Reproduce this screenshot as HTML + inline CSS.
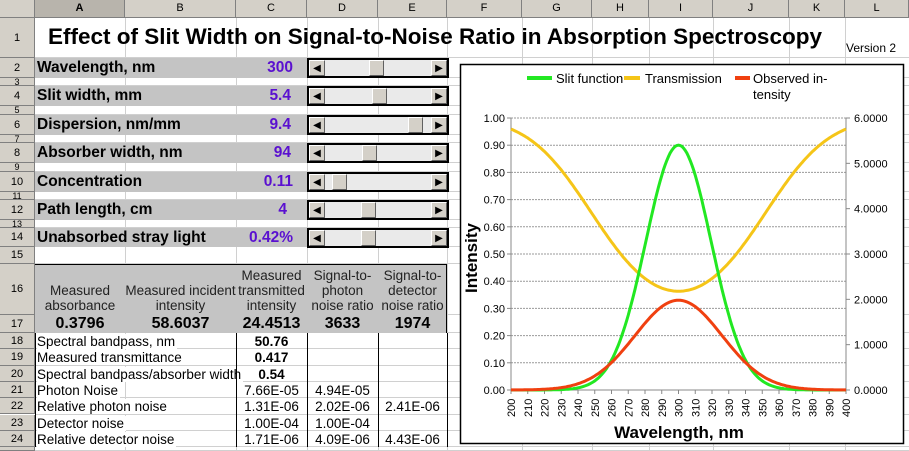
<!DOCTYPE html>
<html><head><meta charset="utf-8">
<style>
body{margin:0;width:909px;height:451px;overflow:hidden;background:#fff;font-family:"Liberation Sans",Arial,sans-serif;position:relative}
.a{position:absolute;box-sizing:border-box}
.hd{background:#d4d0c8;border-right:1px solid #808080;border-bottom:1px solid #808080;font-size:11px;text-align:center;color:#000}
.vl{position:absolute;top:18px;width:1px;height:433px;background:#d0d0d0}
.hl{position:absolute;left:35px;height:1px;width:874px;background:#d0d0d0}
.g{background:#c4c4c4}
.lab{font-weight:bold;font-size:15.5px;white-space:nowrap}
.val{font-weight:bold;font-size:15.5px;color:#5a10d0;text-align:right}
.sb{position:absolute;left:307px;width:142px;border:2px solid #000;background:#eaeaea;box-sizing:border-box}
.btn{position:absolute;top:0;bottom:0;width:16px;background:#d4d0c8;border-right:1px solid #606060;border-bottom:1px solid #606060;border-left:1px solid #fff;border-top:1px solid #fff;box-sizing:border-box;font-size:10px;line-height:15px;text-align:center}
.th{position:absolute;top:0;bottom:0;width:15px;background:#d4d0c8;border-right:1px solid #606060;border-bottom:1px solid #606060;border-left:1px solid #fff;border-top:1px solid #fff;box-sizing:border-box}
.t{font-size:13.5px;white-space:nowrap}
</style></head><body>
<div class="a hd" style="left:0;top:0;width:35px;height:18px"></div>
<div class="a hd" style="left:35px;top:0;width:90px;height:18px;background:#b8b4ac;font-weight:bold;line-height:17px">A</div>
<div class="a hd" style="left:125px;top:0;width:111px;height:18px;line-height:17px">B</div>
<div class="a hd" style="left:236px;top:0;width:71px;height:18px;line-height:17px">C</div>
<div class="a hd" style="left:307px;top:0;width:71px;height:18px;line-height:17px">D</div>
<div class="a hd" style="left:378px;top:0;width:69px;height:18px;line-height:17px">E</div>
<div class="a hd" style="left:447px;top:0;width:75px;height:18px;line-height:17px">F</div>
<div class="a hd" style="left:522px;top:0;width:70px;height:18px;line-height:17px">G</div>
<div class="a hd" style="left:592px;top:0;width:57px;height:18px;line-height:17px">H</div>
<div class="a hd" style="left:649px;top:0;width:64px;height:18px;line-height:17px">I</div>
<div class="a hd" style="left:713px;top:0;width:76px;height:18px;line-height:17px">J</div>
<div class="a hd" style="left:789px;top:0;width:56px;height:18px;line-height:17px">K</div>
<div class="a hd" style="left:845px;top:0;width:64px;height:18px;line-height:17px">L</div>
<div class="vl" style="left:125px"></div><div class="vl" style="left:236px"></div><div class="vl" style="left:307px"></div><div class="vl" style="left:378px"></div><div class="vl" style="left:447px"></div><div class="vl" style="left:522px"></div><div class="vl" style="left:592px"></div><div class="vl" style="left:649px"></div><div class="vl" style="left:713px"></div><div class="vl" style="left:789px"></div><div class="vl" style="left:845px"></div>
<div id="rows"></div>
<div class="a g" style="left:35px;top:58px;width:272px;height:20px"></div>
<div class="a g" style="left:35px;top:86px;width:272px;height:20px"></div>
<div class="a g" style="left:35px;top:115px;width:272px;height:20px"></div>
<div class="a g" style="left:35px;top:143px;width:272px;height:20px"></div>
<div class="a g" style="left:35px;top:172px;width:272px;height:20px"></div>
<div class="a g" style="left:35px;top:200px;width:272px;height:20px"></div>
<div class="a g" style="left:35px;top:228px;width:272px;height:19px"></div>
<div class="a g" style="left:35px;top:264px;width:412px;height:69px;border-top:1px solid #000;border-right:1px solid #000"></div>
<div class="a" style="left:48px;top:24px;font-size:22.5px;font-weight:bold;white-space:nowrap">Effect of Slit Width on Signal-to-Noise Ratio in Absorption Spectroscopy</div>
<div class="a" style="left:846px;top:41px;font-size:12px">Version 2</div>
<div class="a lab" style="left:37px;top:59px">Wavelength, nm</div><div class="a val" style="left:236px;top:59px;width:57px">300</div>
<div class="a lab" style="left:37px;top:87px">Slit width, mm</div><div class="a val" style="left:236px;top:87px;width:55px">5.4</div>
<div class="a lab" style="left:37px;top:116px">Dispersion, nm/mm</div><div class="a val" style="left:236px;top:116px;width:55px">9.4</div>
<div class="a lab" style="left:37px;top:144px">Absorber width, nm</div><div class="a val" style="left:236px;top:144px;width:55px">94</div>
<div class="a lab" style="left:37px;top:173px">Concentration</div><div class="a val" style="left:236px;top:173px;width:57px">0.11</div>
<div class="a lab" style="left:37px;top:201px">Path length, cm</div><div class="a val" style="left:236px;top:201px;width:51px">4</div>
<div class="a lab" style="left:37px;top:229px">Unabsorbed stray light</div><div class="a val" style="left:236px;top:229px;width:57px">0.42%</div>
<div id="sbs"></div>
<div class="a t" style="left:35px;top:268px;width:90px;text-align:center;line-height:15px;color:#222"><br>Measured<br>absorbance</div>
<div class="a t" style="left:125px;top:268px;width:111px;text-align:center;line-height:15px;color:#222"><br>Measured incident<br>intensity</div>
<div class="a t" style="left:236px;top:268px;width:71px;text-align:center;line-height:15px;color:#222">Measured<br>transmitted<br>intensity</div>
<div class="a t" style="left:307px;top:268px;width:71px;text-align:center;line-height:15px;color:#222">Signal-to-<br>photon<br>noise ratio</div>
<div class="a t" style="left:378px;top:268px;width:69px;text-align:center;line-height:15px;color:#222">Signal-to-<br>detector<br>noise ratio</div>
<div class="a" style="left:35px;top:315px;width:90px;text-align:center;font-weight:bold;font-size:16px">0.3796</div>
<div class="a" style="left:125px;top:315px;width:111px;text-align:center;font-weight:bold;font-size:16px">58.6037</div>
<div class="a" style="left:236px;top:315px;width:71px;text-align:center;font-weight:bold;font-size:16px">24.4513</div>
<div class="a" style="left:307px;top:315px;width:71px;text-align:center;font-weight:bold;font-size:16px">3633</div>
<div class="a" style="left:378px;top:315px;width:69px;text-align:center;font-weight:bold;font-size:16px">1974</div>
<div id="tbl"></div>
<svg class="a" style="left:0;top:0" width="909" height="451" id="ch">
<rect x="460.5" y="64.5" width="443" height="379" fill="#fff" stroke="#000" stroke-width="1.5"/>
</svg>
<script>
var rh=[[1,18,58],[2,58,78],[3,78,86],[4,86,106],[5,106,115],[6,115,135],[7,135,143],[8,143,163],[9,163,172],[10,172,192],[11,192,200],[12,200,220],[13,220,228],[14,228,247],[15,247,264],[16,264,315],[17,315,333]];
var y=333;for(var i=18;i<=24;i++){rh.push([i,y,y+16.3]);y+=16.3}rh.push(['',y,451]);
var h='';rh.forEach(function(r){var ht=r[2]-r[1];h+='<div class="a hd" style="left:0;top:'+r[1]+'px;width:35px;height:'+ht+'px;line-height:'+ht+'px;font-size:'+(ht<12?9:11)+'px">'+r[0]+'</div><div class="hl" style="top:'+(r[2]-1)+'px"></div>';});
document.getElementById('rows').innerHTML=h;
var sb=[[58,369],[86,372],[115,408],[143,362],[172,332],[200,361],[228,361]];h='';
sb.forEach(function(s){h+='<div class="sb" style="top:'+s[0]+'px;height:20px"><div class="btn" style="left:0">&#9664;</div><div class="th" style="left:'+(s[1]-309)+'px"></div><div class="btn" style="right:0">&#9654;</div></div>';});
document.getElementById('sbs').innerHTML=h;
var trows=[['Spectral bandpass, nm','<b>50.76</b>','',''],['Measured transmittance','<b>0.417</b>','',''],['Spectral bandpass/absorber width','<b>0.54</b>','',''],['Photon Noise','7.66E-05','4.94E-05',''],['Relative photon noise','1.31E-06','2.02E-06','2.41E-06'],['Detector noise','1.00E-04','1.00E-04',''],['Relative detector  noise','1.71E-06','4.09E-06','4.43E-06']];
h='';trows.forEach(function(r,i){var t=333+i*16.3;
h+='<div class="a t" style="left:37px;top:'+(t+1)+'px;background:#fff;padding-right:2px">'+r[0]+'</div>';
h+='<div class="a t" style="left:236px;top:'+(t+1)+'px;width:71px;text-align:center">'+r[1]+'</div>';
h+='<div class="a t" style="left:307px;top:'+(t+1)+'px;width:71px;text-align:center">'+r[2]+'</div>';
h+='<div class="a t" style="left:378px;top:'+(t+1)+'px;width:69px;text-align:center">'+r[3]+'</div>';});
h+='<div class="a" style="left:35px;top:333px;width:1px;height:114px;background:#000"></div><div class="a" style="left:236px;top:333px;width:1px;height:114px;background:#000"></div><div class="a" style="left:307px;top:333px;width:1px;height:114px;background:#000"></div><div class="a" style="left:378px;top:333px;width:1px;height:114px;background:#000"></div><div class="a" style="left:447px;top:333px;width:1px;height:114px;background:#000"></div>';
document.getElementById('tbl').innerHTML=h;
var s='';var X0=511,X1=846,Y0=390,Y1=118;
function px(l){return X0+(l-200)*(X1-X0)/200}function py(v){return Y0-v*(Y0-Y1)}
for(var k=1;k<=10;k++){var yy=py(k/10);s+='<line x1="'+X0+'" x2="'+X1+'" y1="'+yy+'" y2="'+yy+'" stroke="#999" stroke-dasharray="2,1"/>';}
s+='<line x1="'+X0+'" x2="'+X0+'" y1="'+Y1+'" y2="'+Y0+'" stroke="#888"/><line x1="'+X1+'" x2="'+X1+'" y1="'+Y1+'" y2="'+Y0+'" stroke="#888"/><line x1="'+X0+'" x2="'+X1+'" y1="'+Y0+'" y2="'+Y0+'" stroke="#888"/>';
for(k=0;k<=10;k++){var yy=py(k/10);s+='<text x="'+(X0-6)+'" y="'+(yy+4)+'" font-size="11" text-anchor="end" font-family="Liberation Sans,sans-serif">'+(k/10).toFixed(2)+'</text><line x1="'+(X0-4)+'" x2="'+X0+'" y1="'+yy+'" y2="'+yy+'" stroke="#888"/>';}
for(k=0;k<=6;k++){var yy=Y0-k*(Y0-Y1)/6;s+='<text x="'+(X1+8)+'" y="'+(yy+4)+'" font-size="11" font-family="Liberation Sans,sans-serif">'+k.toFixed(4)+'</text><line x1="'+X1+'" x2="'+(X1+4)+'" y1="'+yy+'" y2="'+yy+'" stroke="#888"/>';}
for(k=200;k<=400;k+=10){var xx=px(k);s+='<line x1="'+xx+'" x2="'+xx+'" y1="'+Y0+'" y2="'+(Y0+4)+'" stroke="#888"/><text transform="translate('+(xx+4)+','+(Y0+27)+') rotate(-90)" font-size="11" font-family="Liberation Sans,sans-serif">'+k+'</text>';}
function slit(l){var d=l-300;return 0.9*Math.exp(-d*d/(2*19.5*19.5));}
function trans(l){var d=l-300;var A=0.44*Math.exp(-d*d/(56*56));return Math.pow(10,-A);}
function obs(l){var d=l-300;return 0.33*Math.exp(-d*d/(2*26*26));}
function path(f,c){var p='';for(var l=200;l<=400;l+=1){p+=(l==200?'M':'L')+px(l).toFixed(1)+','+py(f(l)).toFixed(1);}return '<path d="'+p+'" fill="none" stroke="'+c+'" stroke-width="3"/>';}
s+=path(trans,'#f5c518');s+=path(slit,'#22e822');s+=path(obs,'#f04010');
s+='<line x1="527" x2="552" y1="78" y2="78" stroke="#22e822" stroke-width="4"/><text x="556" y="83" font-size="13" font-family="Liberation Sans,sans-serif">Slit function</text>';
s+='<line x1="624" x2="640" y1="78" y2="78" stroke="#f5c518" stroke-width="4"/><text x="645" y="83" font-size="13" font-family="Liberation Sans,sans-serif">Transmission</text>';
s+='<line x1="735" x2="750" y1="78" y2="78" stroke="#f04010" stroke-width="4"/><text x="753" y="83" font-size="13" font-family="Liberation Sans,sans-serif">Observed in-</text><text x="753" y="99" font-size="13" font-family="Liberation Sans,sans-serif">tensity</text>';
s+='<text x="679" y="438" font-size="17" font-weight="bold" text-anchor="middle" font-family="Liberation Sans,sans-serif">Wavelength, nm</text>';
s+='<text transform="translate(477,258) rotate(-90)" font-size="17" font-weight="bold" text-anchor="middle" font-family="Liberation Sans,sans-serif">Intensity</text>';
document.getElementById('ch').innerHTML+=s;
</script>
</body></html>
